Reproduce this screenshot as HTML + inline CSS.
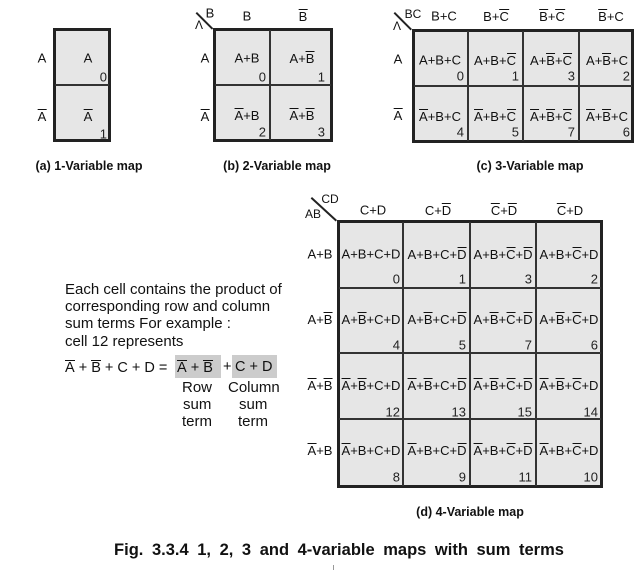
<!DOCTYPE html>
<html><head><meta charset="utf-8">
<style>
body{margin:0;width:644px;height:572px;background:#fff;position:relative;overflow:hidden;font-family:"Liberation Sans",Arial,sans-serif;color:#111}
.box{position:absolute;border:3px solid #222;background:#e6e6e6;box-sizing:border-box}
.vl{position:absolute;width:2px;background:#333}
.hl{position:absolute;height:2px;background:#333}
.t{position:absolute;font-size:13px;transform:translate(-50%,-50%);white-space:nowrap;line-height:1}
.n{position:absolute;font-size:13px;transform:translate(-100%,-50%);white-space:nowrap;line-height:1;color:#222}
.o{display:inline-block;line-height:1;border-top:1.6px solid #111;}
.cap{position:absolute;font-size:12.5px;font-weight:bold;transform:translate(-50%,-50%);white-space:nowrap;line-height:1}
.p{position:absolute;font-size:15px;line-height:1;white-space:nowrap}
.d{position:absolute;height:1.5px;background:#222;transform-origin:0 0}
</style></head><body>

<!-- (a) -->
<div class="box" style="left:53px;top:28px;width:58px;height:114px"></div>
<div class="hl" style="left:55px;top:84px;width:54px"></div>
<div class="t" style="left:42px;top:58px">A</div>
<div class="t" style="left:42px;top:116px"><span class="o">A</span></div>
<div class="t" style="left:88px;top:58px">A</div>
<div class="n" style="left:107px;top:77px">0</div>
<div class="t" style="left:88px;top:116px"><span class="o">A</span></div>
<div class="n" style="left:107px;top:134px">1</div>
<div class="cap" style="left:89px;top:166px">(a) 1-Variable map</div>

<!-- (b) -->
<div class="box" style="left:213px;top:28px;width:120px;height:114px"></div>
<div class="vl" style="left:269px;top:30px;height:110px"></div>
<div class="hl" style="left:215px;top:84px;width:116px"></div>
<div class="d" style="left:197px;top:12px;width:23px;transform:rotate(45deg)"></div>
<div class="t" style="left:199px;top:25px;font-size:12px">Λ</div>
<div class="t" style="left:210px;top:13px">B</div>
<div class="t" style="left:247px;top:16px">B</div>
<div class="t" style="left:303px;top:16px"><span class="o">B</span></div>
<div class="t" style="left:205px;top:58px">A</div>
<div class="t" style="left:205px;top:116px"><span class="o">A</span></div>
<div class="t" style="left:247px;top:58px">A+B</div>
<div class="n" style="left:266px;top:77px">0</div>
<div class="t" style="left:302px;top:58px">A+<span class="o">B</span></div>
<div class="n" style="left:325px;top:77px">1</div>
<div class="t" style="left:247px;top:115px"><span class="o">A</span>+B</div>
<div class="n" style="left:266px;top:132px">2</div>
<div class="t" style="left:302px;top:115px"><span class="o">A</span>+<span class="o">B</span></div>
<div class="n" style="left:325px;top:132px">3</div>
<div class="cap" style="left:277px;top:166px">(b) 2-Variable map</div>

<!-- (c) -->
<div class="box" style="left:412px;top:29px;width:222px;height:114px"></div>
<div class="vl" style="left:467px;top:31px;height:110px"></div>
<div class="vl" style="left:522px;top:31px;height:110px"></div>
<div class="vl" style="left:578px;top:31px;height:110px"></div>
<div class="hl" style="left:414px;top:85px;width:218px"></div>
<div class="d" style="left:395px;top:12px;width:24px;transform:rotate(45deg)"></div>
<div class="t" style="left:397px;top:26px;font-size:12px">Λ</div>
<div class="t" style="left:413px;top:14px;font-size:12px">BC</div>
<div class="t" style="left:444px;top:16px">B+C</div>
<div class="t" style="left:496px;top:16px">B+<span class="o">C</span></div>
<div class="t" style="left:552px;top:16px"><span class="o">B</span>+<span class="o">C</span></div>
<div class="t" style="left:611px;top:16px"><span class="o">B</span>+C</div>
<div class="t" style="left:398px;top:59px">A</div>
<div class="t" style="left:398px;top:115px"><span class="o">A</span></div>
<div class="t" style="left:440px;top:60px">A+B+C</div>
<div class="n" style="left:464px;top:76px">0</div>
<div class="t" style="left:495px;top:60px">A+B+<span class="o">C</span></div>
<div class="n" style="left:519px;top:76px">1</div>
<div class="t" style="left:551px;top:60px">A+<span class="o">B</span>+<span class="o">C</span></div>
<div class="n" style="left:575px;top:76px">3</div>
<div class="t" style="left:607px;top:60px">A+<span class="o">B</span>+C</div>
<div class="n" style="left:630px;top:76px">2</div>
<div class="t" style="left:440px;top:116px"><span class="o">A</span>+B+C</div>
<div class="n" style="left:464px;top:132px">4</div>
<div class="t" style="left:495px;top:116px"><span class="o">A</span>+B+<span class="o">C</span></div>
<div class="n" style="left:519px;top:132px">5</div>
<div class="t" style="left:551px;top:116px"><span class="o">A</span>+<span class="o">B</span>+<span class="o">C</span></div>
<div class="n" style="left:575px;top:132px">7</div>
<div class="t" style="left:607px;top:116px"><span class="o">A</span>+<span class="o">B</span>+C</div>
<div class="n" style="left:630px;top:132px">6</div>
<div class="cap" style="left:530px;top:166px">(c) 3-Variable map</div>

<!-- text block -->
<div class="p" style="left:65px;top:282px">Each cell contains the product of</div>
<div class="p" style="left:65px;top:299px">corresponding row and column</div>
<div class="p" style="left:65px;top:316px">sum terms For example :</div>
<div class="p" style="left:65px;top:334px">cell 12 represents</div>
<div style="position:absolute;left:175px;top:355px;width:46px;height:23px;background:#ccc"></div>
<div style="position:absolute;left:232px;top:355px;width:45px;height:23px;background:#ccc"></div>
<div class="p" style="left:65px;top:360px;font-size:14.5px"><span class="o">A</span> + <span class="o">B</span> + C + D =</div>
<div class="p" style="left:177px;top:360px;font-size:14.5px"><span class="o">A</span> + <span class="o">B</span></div>
<div class="p" style="left:223px;top:360px;font-size:14.5px">+</div>
<div class="p" style="left:235px;top:360px;font-size:14.5px">C + D</div>
<div class="p" style="left:182px;top:380px">Row</div>
<div class="p" style="left:228px;top:380px">Column</div>
<div class="p" style="left:183px;top:397px">sum</div>
<div class="p" style="left:239px;top:397px">sum</div>
<div class="p" style="left:182px;top:414px">term</div>
<div class="p" style="left:238px;top:414px">term</div>

<!-- (d) -->
<div class="box" style="left:337px;top:220px;width:266px;height:268px"></div>
<div class="vl" style="left:402px;top:222px;height:264px"></div>
<div class="vl" style="left:469px;top:222px;height:264px"></div>
<div class="vl" style="left:535px;top:222px;height:264px"></div>
<div class="hl" style="left:339px;top:287px;width:262px"></div>
<div class="hl" style="left:339px;top:352px;width:262px"></div>
<div class="hl" style="left:339px;top:418px;width:262px"></div>
<div class="d" style="left:312px;top:197px;width:34px;transform:rotate(42.6deg)"></div>
<div class="t" style="left:330px;top:199px;font-size:12px">CD</div>
<div class="t" style="left:313px;top:214px;font-size:12px">AB</div>
<div class="t" style="left:373px;top:210px">C+D</div>
<div class="t" style="left:438px;top:210px">C+<span class="o">D</span></div>
<div class="t" style="left:504px;top:210px"><span class="o">C</span>+<span class="o">D</span></div>
<div class="t" style="left:570px;top:210px"><span class="o">C</span>+D</div>

<div class="t" style="left:320px;top:254px">A+B</div>
<div class="t" style="left:320px;top:319px">A+<span class="o">B</span></div>
<div class="t" style="left:320px;top:385px"><span class="o">A</span>+<span class="o">B</span></div>
<div class="t" style="left:320px;top:450px"><span class="o">A</span>+B</div>

<div class="t" style="left:371px;top:254px">A+B+C+D</div>
<div class="t" style="left:437px;top:254px">A+B+C+<span class="o">D</span></div>
<div class="t" style="left:503px;top:254px">A+B+<span class="o">C</span>+<span class="o">D</span></div>
<div class="t" style="left:569px;top:254px">A+B+<span class="o">C</span>+D</div>
<div class="n" style="left:400px;top:279px">0</div>
<div class="n" style="left:466px;top:279px">1</div>
<div class="n" style="left:532px;top:279px">3</div>
<div class="n" style="left:598px;top:279px">2</div>

<div class="t" style="left:371px;top:319px">A+<span class="o">B</span>+C+D</div>
<div class="t" style="left:437px;top:319px">A+<span class="o">B</span>+C+<span class="o">D</span></div>
<div class="t" style="left:503px;top:319px">A+<span class="o">B</span>+<span class="o">C</span>+<span class="o">D</span></div>
<div class="t" style="left:569px;top:319px">A+<span class="o">B</span>+<span class="o">C</span>+D</div>
<div class="n" style="left:400px;top:345px">4</div>
<div class="n" style="left:466px;top:345px">5</div>
<div class="n" style="left:532px;top:345px">7</div>
<div class="n" style="left:598px;top:345px">6</div>

<div class="t" style="left:371px;top:385px"><span class="o">A</span>+<span class="o">B</span>+C+D</div>
<div class="t" style="left:437px;top:385px"><span class="o">A</span>+<span class="o">B</span>+C+<span class="o">D</span></div>
<div class="t" style="left:503px;top:385px"><span class="o">A</span>+<span class="o">B</span>+<span class="o">C</span>+<span class="o">D</span></div>
<div class="t" style="left:569px;top:385px"><span class="o">A</span>+<span class="o">B</span>+<span class="o">C</span>+D</div>
<div class="n" style="left:400px;top:412px">12</div>
<div class="n" style="left:466px;top:412px">13</div>
<div class="n" style="left:532px;top:412px">15</div>
<div class="n" style="left:598px;top:412px">14</div>

<div class="t" style="left:371px;top:450px"><span class="o">A</span>+B+C+D</div>
<div class="t" style="left:437px;top:450px"><span class="o">A</span>+B+C+<span class="o">D</span></div>
<div class="t" style="left:503px;top:450px"><span class="o">A</span>+B+<span class="o">C</span>+<span class="o">D</span></div>
<div class="t" style="left:569px;top:450px"><span class="o">A</span>+B+<span class="o">C</span>+D</div>
<div class="n" style="left:400px;top:477px">8</div>
<div class="n" style="left:466px;top:477px">9</div>
<div class="n" style="left:532px;top:477px">11</div>
<div class="n" style="left:598px;top:477px">10</div>
<div class="cap" style="left:470px;top:512px">(d) 4-Variable map</div>

<div class="cap" style="left:339px;top:550px;font-size:16.5px;word-spacing:4px">Fig. 3.3.4 1, 2, 3 and 4-variable maps with sum terms</div>
<div style="position:absolute;left:333px;top:565px;width:1px;height:5px;background:#999"></div>
</body></html>
